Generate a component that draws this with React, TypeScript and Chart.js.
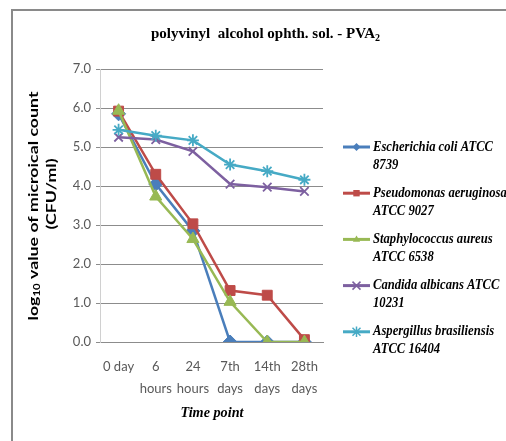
import React, { useEffect, useRef } from 'react';
import { Chart, registerables } from 'chart.js';

Chart.register(...registerables);

const categories: (string | string[])[] = ['0 day', ['6', 'hours'], ['24', 'hours'], ['7th', 'days'], ['14th', 'days'], ['28th', 'days']];

const ecoli = [5.85, 4.05, 2.85, 0, 0, 0];
const paeruginosa = [5.92, 4.3, 3.03, 1.32, 1.2, 0.06];
const saureus = [5.93, 3.73, 2.64, 1.03, 0, 0];
const calbicans = [5.25, 5.19, 4.89, 4.05, 3.97, 3.86];
const abrasiliensis = [5.44, 5.29, 5.17, 4.55, 4.38, 4.16];

const seriesNames = [
  'Escherichia coli ATCC 8739',
  'Pseudomonas aeruginosa ATCC 9027',
  'Staphylococcus aureus ATCC 6538',
  'Candida albicans ATCC 10231',
  'Aspergillus brasiliensis ATCC 16404',
];
const legendLines = [
  ['Escherichia coli ATCC', '8739'],
  ['Pseudomonas aeruginosa', 'ATCC 9027'],
  ['Staphylococcus aureus', 'ATCC 6538'],
  ['Candida albicans ATCC', '10231'],
  ['Aspergillus brasiliensis', 'ATCC 16404'],
];
const seriesData = [ecoli, paeruginosa, saureus, calbicans, abrasiliensis];
const colors = ['#4A7EBB', '#BE4B48', '#98B954', '#7D60A0', '#46AAC5'];
const pointStyles = ['rectRot', 'rect', 'triangle', 'crossRot', 'star'];
const pointRadii = [7, 7, 7, 6, 6];

const titleMain = 'polyvinyl  alcohol ophth. sol. - PVA';
const titleSub = '2';
const yTitle1a = 'log';
const yTitle1sub = '10';
const yTitle1b = ' value of microical count';
const yTitle2 = '(CFU/ml)';
const xTitle = 'Time point';

function drawMarker(ctx: CanvasRenderingContext2D, style: string, x: number, y: number, r: number, color: string) {
  ctx.save();
  ctx.fillStyle = color;
  ctx.strokeStyle = color;
  ctx.lineWidth = 1.5;
  ctx.beginPath();
  if (style === 'rectRot') {
    ctx.moveTo(x - r, y); ctx.lineTo(x, y - r); ctx.lineTo(x + r, y); ctx.lineTo(x, y + r); ctx.closePath(); ctx.fill();
  } else if (style === 'rect') {
    ctx.rect(x - r * 0.8, y - r * 0.8, r * 1.6, r * 1.6); ctx.fill();
  } else if (style === 'triangle') {
    ctx.moveTo(x, y - r); ctx.lineTo(x + r * 0.9, y + r * 0.6); ctx.lineTo(x - r * 0.9, y + r * 0.6); ctx.closePath(); ctx.fill();
  } else if (style === 'crossRot') {
    ctx.moveTo(x - r, y - r); ctx.lineTo(x + r, y + r); ctx.moveTo(x + r, y - r); ctx.lineTo(x - r, y + r); ctx.stroke();
  } else {
    ctx.moveTo(x - r, y - r); ctx.lineTo(x + r, y + r); ctx.moveTo(x + r, y - r); ctx.lineTo(x - r, y + r);
    ctx.moveTo(x, y - r * 1.3); ctx.lineTo(x, y + r * 1.3); ctx.stroke();
  }
  ctx.restore();
}

const decorPlugin = {
  id: 'decor',
  beforeDraw(chart: any) {
    const ctx: CanvasRenderingContext2D = chart.ctx;
    ctx.save();
    ctx.fillStyle = '#ffffff';
    ctx.fillRect(0, 0, chart.width, chart.height);
    ctx.strokeStyle = '#8a8a8a';
    ctx.lineWidth = 2;
    ctx.beginPath();
    ctx.moveTo(12, chart.height);
    ctx.lineTo(12, 10);
    ctx.lineTo(chart.width, 10);
    ctx.stroke();
    ctx.restore();
  },
  afterDraw(chart: any) {
    const ctx: CanvasRenderingContext2D = chart.ctx;
    // Title
    ctx.save();
    ctx.fillStyle = '#000';
    ctx.textBaseline = 'alphabetic';
    ctx.textAlign = 'left';
    ctx.font = 'bold 15px "Liberation Serif"';
    const w1 = ctx.measureText(titleMain).width;
    ctx.font = 'bold 10px "Liberation Serif"';
    const w2 = ctx.measureText(titleSub).width;
    const s = 229 / (w1 + w2);
    ctx.translate(151, 38);
    ctx.scale(s, 1);
    ctx.font = 'bold 15px "Liberation Serif"';
    ctx.fillText(titleMain, 0, 0);
    ctx.font = 'bold 10px "Liberation Serif"';
    ctx.fillText(titleSub, w1, 3);
    ctx.restore();

    // Y title
    ctx.save();
    ctx.fillStyle = '#000';
    ctx.textBaseline = 'middle';
    ctx.textAlign = 'left';
    ctx.font = 'bold 14px Lato';
    const a = ctx.measureText(yTitle1a).width;
    const c = ctx.measureText(yTitle1b).width;
    ctx.font = 'bold 9px Lato';
    const b = ctx.measureText(yTitle1sub).width;
    const ys = 229 / (a + b + c);
    ctx.translate(33, 206);
    ctx.rotate(-Math.PI / 2);
    ctx.scale(ys, 1);
    const start = -(a + b + c) / 2;
    ctx.font = 'bold 14px Lato';
    ctx.fillText(yTitle1a, start, 0);
    ctx.font = 'bold 9px Lato';
    ctx.fillText(yTitle1sub, start + a, 4);
    ctx.font = 'bold 14px Lato';
    ctx.fillText(yTitle1b, start + a + b, 0);
    ctx.restore();
    ctx.save();
    ctx.fillStyle = '#000';
    ctx.textBaseline = 'middle';
    ctx.textAlign = 'center';
    ctx.font = 'bold 14px Lato';
    ctx.translate(51, 194);
    ctx.rotate(-Math.PI / 2);
    ctx.scale(ys, 1);
    ctx.fillText(yTitle2, 0, 0);
    ctx.restore();

    // X title
    ctx.save();
    ctx.fillStyle = '#000';
    ctx.textBaseline = 'middle';
    ctx.textAlign = 'center';
    ctx.font = 'italic bold 15px "Liberation Serif"';
    const xw = ctx.measureText(xTitle).width;
    ctx.translate(212, 413);
    ctx.scale(63 / xw, 1);
    ctx.fillText(xTitle, 0, 0);
    ctx.restore();

    // Legend
    ctx.save();
    ctx.font = 'italic bold 14px "Liberation Serif"';
    const lw = ctx.measureText(legendLines[0][0]).width;
    const ls = 120 / lw;
    ctx.restore();
    for (let i = 0; i < seriesNames.length; i++) {
      const y0 = 147 + i * 46.2;
      ctx.save();
      ctx.strokeStyle = colors[i];
      ctx.lineWidth = 3;
      ctx.beginPath();
      ctx.moveTo(343, y0);
      ctx.lineTo(370, y0);
      ctx.stroke();
      ctx.restore();
      drawMarker(ctx, pointStyles[i], 356.5, y0, 4, colors[i]);
      ctx.save();
      ctx.fillStyle = '#000';
      ctx.textBaseline = 'middle';
      ctx.textAlign = 'left';
      ctx.font = 'italic bold 14px "Liberation Serif"';
      ctx.translate(373, y0);
      ctx.scale(ls, 1);
      ctx.fillText(legendLines[i][0], 0, 0);
      ctx.fillText(legendLines[i][1], 0, 18);
      ctx.restore();
    }
  },
};

export default function App() {
  const canvasRef = useRef<HTMLCanvasElement | null>(null);
  useEffect(() => {
    if (!canvasRef.current) return;
    const chart = new Chart(canvasRef.current, {
      type: 'line',
      data: {
        labels: categories as any,
        datasets: seriesData.map((d, i) => ({
          label: seriesNames[i],
          data: d,
          borderColor: colors[i],
          backgroundColor: colors[i],
          pointBackgroundColor: colors[i],
          pointBorderColor: colors[i],
          pointBorderWidth: i >= 3 ? 1.8 : 1,
          pointStyle: pointStyles[i] as any,
          pointRadius: pointRadii[i],
          borderWidth: 2.5,
          tension: 0,
          fill: false,
          order: 5 - i,
        })),
      },
      options: {
        responsive: false,
        animation: false,
        devicePixelRatio: 1,
        layout: { padding: { left: 0, top: 69, right: 183, bottom: 0 } },
        plugins: {
          legend: { display: false },
          title: { display: false },
          tooltip: { enabled: false },
        },
        scales: {
          x: {
            offset: true,
            grid: { display: false, drawTicks: false },
            border: { display: true, color: '#8c8c8c', width: 1 },
            ticks: {
              color: '#595959',
              font: { family: 'Lato', size: 13, lineHeight: 1.75 },
              padding: 13,
              maxRotation: 0,
              autoSkip: false,
            },
            afterFit: (scale: any) => { scale.height = 99; },
          },
          y: {
            min: 0,
            max: 7,
            grid: { color: '#8c8c8c', lineWidth: 1, tickLength: 4, drawTicks: true },
            border: { display: true, color: '#d0d0d0', width: 1 },
            ticks: {
              stepSize: 1,
              color: '#595959',
              font: { family: 'Lato', size: 13 },
              padding: 5,
              callback: (v: any) => Number(v).toFixed(1),
            },
            afterFit: (scale: any) => { scale.width = 100; },
          },
        },
      },
      plugins: [decorPlugin],
    });
    return () => chart.destroy();
  }, []);
  return (
    <div style={{ position: 'absolute', left: 0, top: 0, width: 506, height: 441 }}>
      <canvas ref={canvasRef} width={506} height={441} style={{ width: 506, height: 441, display: 'block' }} />
    </div>
  );
}
